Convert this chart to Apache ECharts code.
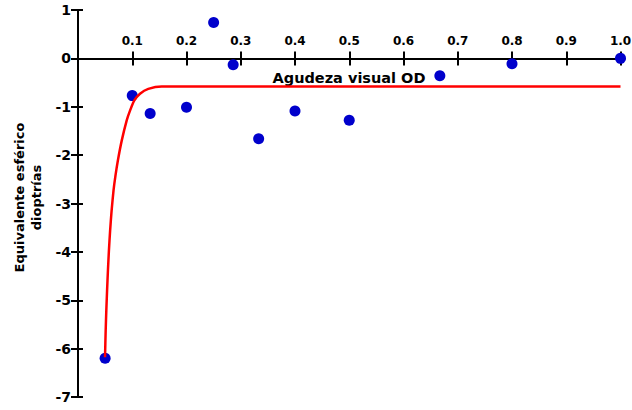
<!DOCTYPE html>
<html>
<head>
<meta charset="utf-8">
<script src="https://cdn.jsdelivr.net/npm/echarts@6/dist/echarts.min.js"></script>
<style>
  html, body { margin: 0; padding: 0; background: #fff; }
  #chart { width: 632px; height: 410px; }
</style>
</head>
<body>
<div id="chart"></div>
<script>
// Visual acuity (OD) vs. spherical equivalent (diopters)
const acuity = [0.05, 0.1, 0.133, 0.2, 0.25, 0.286, 0.333, 0.4, 0.5, 0.667, 0.8, 1.0];
const sphEq  = [-6.2, -0.77, -1.14, -1.01, 0.74, -0.13, -1.66, -1.09, -1.28, -0.36, -0.11, 0.0];

// Fitted curve, sampled along its path
const fitX = [0.0498, 0.0510, 0.0522, 0.0536, 0.0552, 0.0570, 0.0592, 0.0620, 0.0655, 0.0690, 0.0735, 0.0806, 0.0898, 0.0959, 0.1038, 0.1143, 0.1296, 0.1543, 0.2, 0.4, 0.6, 0.8, 1.0];
const fitY = [-6.18, -5.63, -5.21, -4.80, -4.38, -3.97, -3.56, -3.14, -2.73, -2.43, -2.11, -1.70, -1.28, -1.08, -0.87, -0.73, -0.63, -0.58, -0.58, -0.58, -0.58, -0.58, -0.58];

const xTitle = 'Agudeza visual OD';
const yTitle = 'Equivalente esférico\ndioptrías';

const FONT = '"DejaVu Sans", "Liberation Sans", Arial, sans-serif';
const axisColor = '#000';

const chart = echarts.init(document.getElementById('chart'), null, { renderer: 'svg' });

chart.setOption({
  animation: false,
  backgroundColor: '#fff',
  grid: { left: 78, top: 10, width: 542.5, height: 387, containLabel: false, outerBoundsMode: 'none' },
  // x-axis title sits just below the zero line
  graphic: [
    {
      type: 'text', x: 349, y: 78,
      style: {
        text: xTitle, fill: '#000', font: 'bold 14.5px ' + FONT,
        textAlign: 'center', textVerticalAlign: 'middle'
      }
    }
  ],
  xAxis: [
    {
      type: 'value', min: 0, max: 1, interval: 0.1, position: 'top',
      axisLine: { show: true, onZero: true, lineStyle: { color: axisColor, width: 2 } },
      axisTick: { show: true, length: 7, lineStyle: { color: axisColor, width: 2 } },
      axisLabel: {
        margin: -37, color: '#000', fontFamily: FONT, fontWeight: 'bold', fontSize: 12,
        formatter: v => (Math.abs(v) < 1e-9 ? '' : v.toFixed(1))
      },
      splitLine: { show: false }
    },
    {
      type: 'value', min: 0, max: 1, interval: 0.1, position: 'top',
      axisLine: { show: true, onZero: true, lineStyle: { color: axisColor, width: 2 } },
      axisTick: { show: true, inside: true, length: 7, lineStyle: { color: axisColor, width: 2 } },
      axisLabel: { show: false },
      splitLine: { show: false }
    }
  ],
  yAxis: [
    {
      type: 'value', min: -7, max: 1, interval: 1, position: 'left',
      axisLine: { show: true, onZero: false, lineStyle: { color: axisColor, width: 2 } },
      axisTick: { show: true, length: 7, lineStyle: { color: axisColor, width: 2 } },
      axisLabel: { margin: 7, color: '#000', fontFamily: FONT, fontWeight: 'bold', fontSize: 14 },
      splitLine: { show: false },
      name: yTitle, nameLocation: 'middle', nameRotate: 90, nameGap: 33,
      nameTextStyle: {
        color: '#000', fontFamily: FONT, fontWeight: 'bold', fontSize: 13, lineHeight: 17,
        align: 'center', padding: [0, 0, 0, 12]
      }
    },
    {
      type: 'value', min: -7, max: 1, interval: 1, position: 'left',
      axisLine: { show: true, onZero: false, lineStyle: { color: axisColor, width: 2 } },
      axisTick: { show: true, inside: true, length: 5, lineStyle: { color: axisColor, width: 2 } },
      axisLabel: { show: false },
      splitLine: { show: false }
    }
  ],
  series: [
    {
      type: 'scatter', xAxisIndex: 0, yAxisIndex: 0,
      data: acuity.map((x, i) => [x, sphEq[i]]),
      symbol: 'circle', symbolSize: 11,
      itemStyle: { color: '#0000CC', opacity: 1 },
      z: 2
    },
    {
      type: 'line', xAxisIndex: 0, yAxisIndex: 0,
      data: fitX.map((x, i) => [x, fitY[i]]),
      showSymbol: false, smooth: 0.2,
      lineStyle: { color: '#FF0000', width: 2.5, opacity: 1 },
      z: 3
    }
  ]
});
</script>
</body>
</html>
